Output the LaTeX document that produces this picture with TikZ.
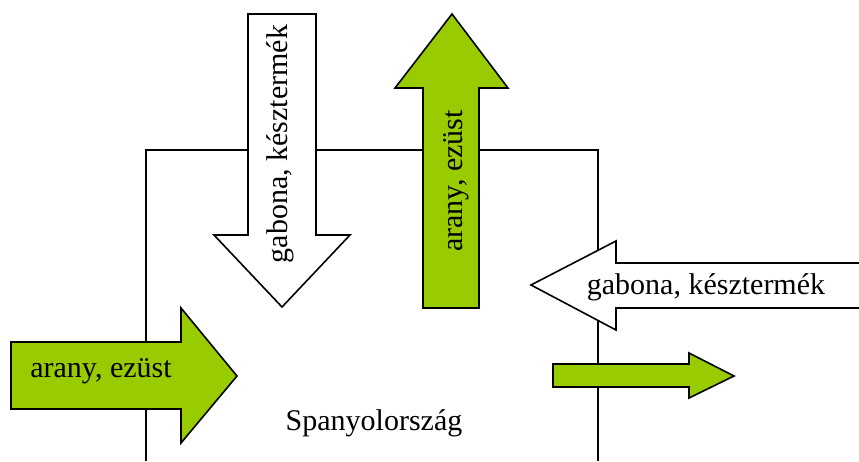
\documentclass[tikz,border=0pt]{standalone}
\usepackage{fontspec}
\setmainfont{Liberation Serif}
\usepackage{tikz}
\definecolor{ezustzold}{RGB}{153,204,0}

\begin{document}
\begin{tikzpicture}[x=1pt,y=-1pt,line width=1.6pt,
    felirat/.style={font=\fontsize{30}{36}\selectfont, inner sep=0pt, anchor=base}]
        \clip (0,0) rectangle (859,461);
        % Spanyolorszag hatara
        \draw (146,461) -- (146,150) -- (598,150) -- (598,461);
        \node [felirat] (spanyol) at (374,430) {Spanyolország};
        % lefele: gabona, kesztermek
        \draw [fill=white] (248,14) -- (316,14) -- (316,235) -- (350,235) -- (282,307) -- (214,235) -- (248,235) -- cycle;
        \node [felirat, rotate=90] (gabonale) at (287,144) {gabona, késztermék};
        % felfele: arany, ezust
        \draw [fill=ezustzold] (423,308) -- (479,308) -- (479,88) -- (508,88) -- (452,14) -- (395,88) -- (423,88) -- cycle;
        \node [felirat, rotate=90] (aranyfel) at (462,181) {arany, ezüst};
        % balrol be: arany, ezust
        \draw [fill=ezustzold] (11,342) -- (181,342) -- (181,308) -- (237,376) -- (181,443) -- (181,409) -- (11,409) -- cycle;
        \node [felirat] (aranybe) at (101,377) {arany, ezüst};
        % jobbrol be: gabona, kesztermek
        \draw [fill=white] (870,263) -- (616,263) -- (616,241) -- (531,285) -- (616,330) -- (616,308) -- (870,308);
        \node [felirat] (gabonabe) at (706,294) {gabona, késztermék};
        % jobbra ki
        \draw [fill=ezustzold] (553,364) -- (689,364) -- (689,353) -- (734,376) -- (689,398) -- (689,387) -- (553,387) -- cycle;
    \end{tikzpicture}
\end{document}
